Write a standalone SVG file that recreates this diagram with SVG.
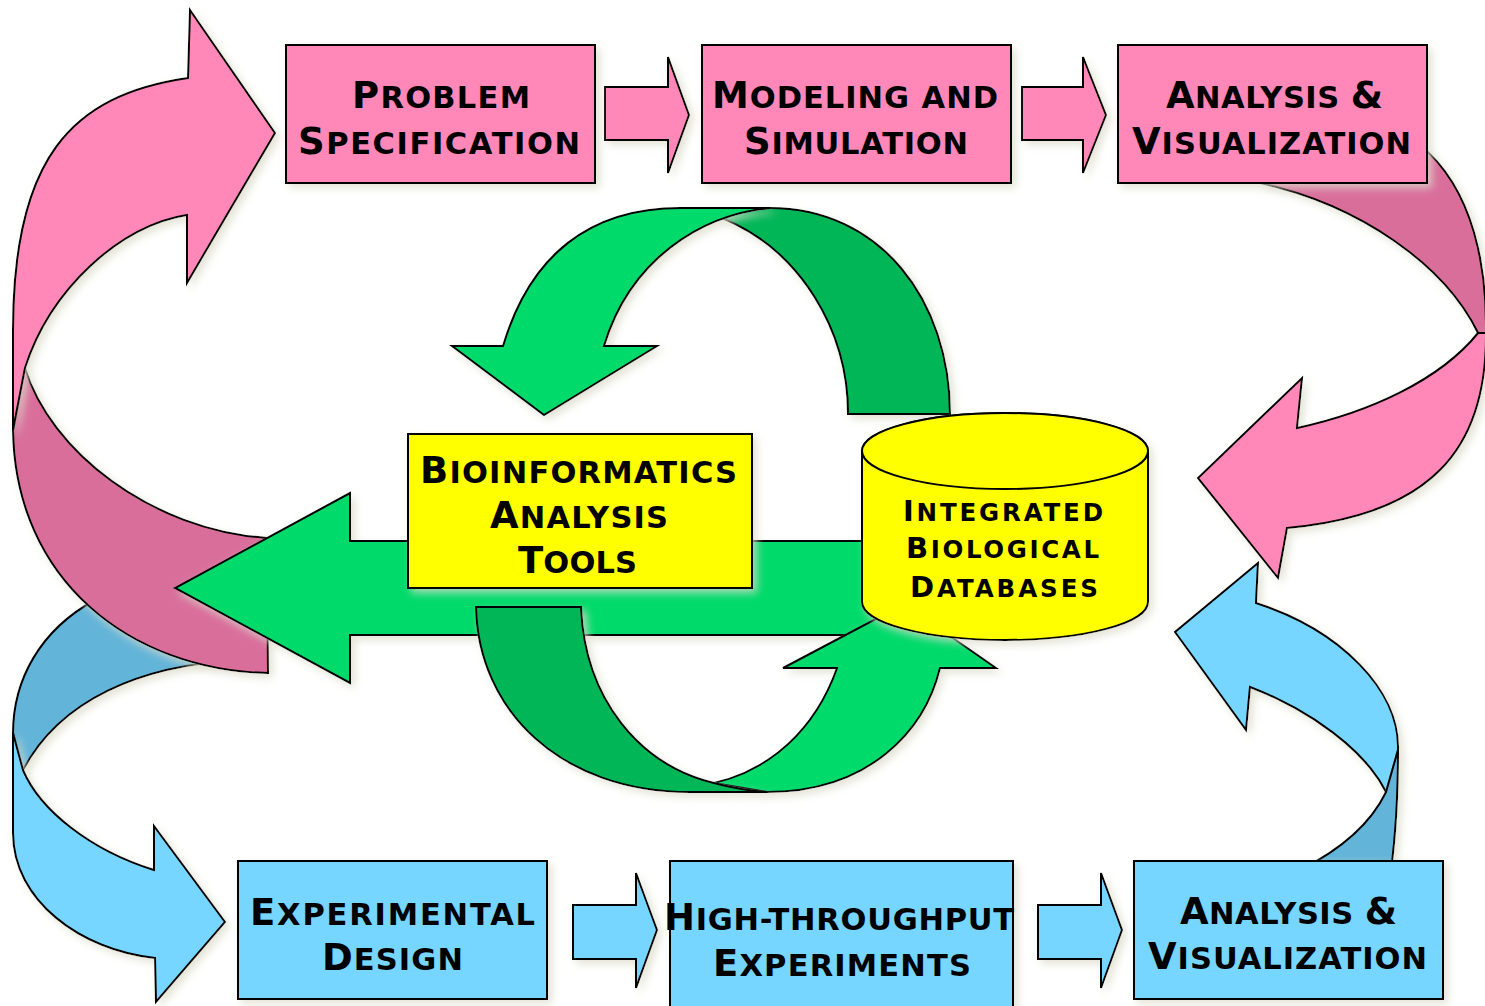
<svg xmlns="http://www.w3.org/2000/svg" width="1485" height="1006" viewBox="0 0 1485 1006">
<defs>
<filter id="sh" x="-15%" y="-15%" width="140%" height="140%">
<feDropShadow dx="4" dy="4" stdDeviation="4" flood-color="#dcdccc" flood-opacity="0.8"/>
</filter>
<style>
.o{stroke:#000;stroke-width:2;stroke-linejoin:miter;filter:url(#sh)}
.pk{fill:#FF88B9}.pkd{fill:#D96E9B}.bl{fill:#77D6FF}.bld{fill:#63B4D9}.gr{fill:#00DA6A}.grd{fill:#00B657}.yl{fill:#FFFF00}
text{font-family:"DejaVu Sans","Liberation Sans",sans-serif;font-weight:bold;fill:#000}
.L{font-size:37px}.s{font-size:30.5px}.Lc{font-size:29px}.sc{font-size:24.5px}
</style>
</defs>
<rect width="1485" height="1006" fill="#fff"/>
<g id="connectors">
  <path class="o bld" d="M 23,770 L 13,733 C 13,680 40,630 95,600 L 220,590 L 240,660 C 140,665 60,700 23,770 Z"/>
  <path class="o bl" d="M 13,733 L 23,770 C 40,810 90,850 154,870 L 154,826 L 225,922 L 156,1002 L 155,958 C 80,950 13,900 13,833 Z"/>
  <path class="o pkd" d="M 25,368 C 50,450 150,530 267,538 L 268,673 C 130,670 15,580 13,430 Z"/>
  <path class="o pk" d="M 13,430 L 13,330 C 13,160 70,95 188,78 L 190,10 L 275,133 L 187,283 L 187,215 C 120,225 50,290 25,368 Z"/>
  <path class="o pkd" d="M 1260,183 C 1360,205 1445,265 1478,333 L 1486,333 C 1487,270 1475,190 1420,145 L 1300,160 Z"/>
  <path class="o pk" d="M 1478,333 L 1486,333 C 1487,450 1430,515 1287,528 L 1278,578 L 1198,478 L 1302,378 L 1297,428 C 1370,412 1440,380 1478,333 Z"/>
  <path class="o bl" d="M 1398,750 C 1400,690 1340,630 1256,603 L 1258,563 L 1175,632 L 1246,730 L 1250,687 C 1310,710 1365,750 1386,792 Z"/>
  <path class="o bld" d="M 1386,792 L 1398,750 C 1398,800 1395,840 1391,870 L 1300,870 C 1340,850 1370,825 1386,792 Z"/>
  <path class="o grd" d="M 722,218 C 745,210 760,208 770,208 C 880,208 950,300 950,414 L 848,414 C 848,330 800,250 722,218 Z"/>
  <path class="o gr" d="M 452,346 L 503,346 C 530,255 590,208 680,208 L 770,208 C 700,215 630,260 604,346 L 657,346 L 544,415 Z"/>
  <path class="o gr" d="M 880,541 L 350,541 L 350,493 L 175,588 L 350,683 L 350,635 L 880,635 Z"/>
  <path class="o gr" d="M 783,668 L 837,668 C 815,730 770,770 714,783 L 767,792 C 870,792 925,730 940,668 L 996,668 L 904,604 Z"/>
  <path class="o grd" d="M 476,607 L 581,607 C 585,700 640,765 714,783 Q 740,790 767,792 L 690,792 C 560,792 478,710 476,607 Z"/>
  <path class="o pk" d="M 605,87 L 668,87 L 668,57 L 689,115 L 668,173 L 668,140 L 605,140 Z"/>
  <path class="o pk" d="M 1022,87 L 1083,87 L 1083,57 L 1106,115 L 1083,173 L 1083,140 L 1022,140 Z"/>
  <path class="o bl" d="M 573,905 L 636,905 L 636,873 L 657,930 L 636,988 L 636,959 L 573,959 Z"/>
  <path class="o bl" d="M 1038,905 L 1101,905 L 1101,873 L 1122,930 L 1101,988 L 1101,959 L 1038,959 Z"/>
</g>
<g id="problem-specification">
  <rect class="o pk" x="286" y="45" width="309" height="138"/>
  <text x="352" y="108" textLength="178"><tspan class="L">P</tspan><tspan class="s">ROBLEM</tspan></text>
  <text x="298" y="154" textLength="282"><tspan class="L">S</tspan><tspan class="s">PECIFICATION</tspan></text>
</g>
<g id="modeling-simulation">
  <rect class="o pk" x="702" y="45" width="309" height="138"/>
  <text x="712" y="108" textLength="286"><tspan class="L">M</tspan><tspan class="s">ODELING AND</tspan></text>
  <text x="744" y="154" textLength="224"><tspan class="L">S</tspan><tspan class="s">IMULATION</tspan></text>
</g>
<g id="analysis-visualization-top">
  <rect class="o pk" x="1118" y="45" width="309" height="138"/>
  <text x="1166" y="108" textLength="217"><tspan class="L">A</tspan><tspan class="s">NALYSIS </tspan><tspan class="L">&amp;</tspan></text>
  <text x="1132" y="154" textLength="279"><tspan class="L">V</tspan><tspan class="s">ISUALIZATION</tspan></text>
</g>
<g id="bioinformatics-tools">
  <rect class="o yl" x="408" y="434" width="344" height="154"/>
  <text x="420" y="483" textLength="317"><tspan class="L">B</tspan><tspan class="s">IOINFORMATICS</tspan></text>
  <text x="490" y="528" textLength="178"><tspan class="L">A</tspan><tspan class="s">NALYSIS</tspan></text>
  <text x="518" y="573" textLength="119"><tspan class="L">T</tspan><tspan class="s">OOLS</tspan></text>
</g>
<g id="integrated-databases">
  <path class="o yl" d="M 862,451 L 862,602 A 143 38 0 0 0 1148,602 L 1148,451 A 143 38 0 0 0 862,451 Z"/>
  <ellipse cx="1005" cy="451" rx="143" ry="38" fill="#FFFF00" stroke="#000" stroke-width="2"/>
  <text x="903" y="521" textLength="200"><tspan class="Lc">I</tspan><tspan class="sc">NTEGRATED</tspan></text>
  <text x="906" y="558" textLength="193"><tspan class="Lc">B</tspan><tspan class="sc">IOLOGICAL</tspan></text>
  <text x="910" y="597" textLength="188"><tspan class="Lc">D</tspan><tspan class="sc">ATABASES</tspan></text>
</g>
<g id="experimental-design">
  <rect class="o bl" x="238" y="861" width="309" height="138"/>
  <text x="250" y="925" textLength="285"><tspan class="L">E</tspan><tspan class="s">XPERIMENTAL</tspan></text>
  <text x="322" y="970" textLength="141"><tspan class="L">D</tspan><tspan class="s">ESIGN</tspan></text>
</g>
<g id="high-throughput-experiments">
  <rect class="o bl" x="670" y="861" width="343" height="150"/>
  <text x="664" y="930" textLength="350"><tspan class="L">H</tspan><tspan class="s">IGH-THROUGHPUT</tspan></text>
  <text x="713" y="976" textLength="258"><tspan class="L">E</tspan><tspan class="s">XPERIMENTS</tspan></text>
</g>
<g id="analysis-visualization-bottom">
  <rect class="o bl" x="1134" y="861" width="309" height="138"/>
  <text x="1180" y="924" textLength="217"><tspan class="L">A</tspan><tspan class="s">NALYSIS </tspan><tspan class="L">&amp;</tspan></text>
  <text x="1148" y="969" textLength="279"><tspan class="L">V</tspan><tspan class="s">ISUALIZATION</tspan></text>
</g>
</svg>
